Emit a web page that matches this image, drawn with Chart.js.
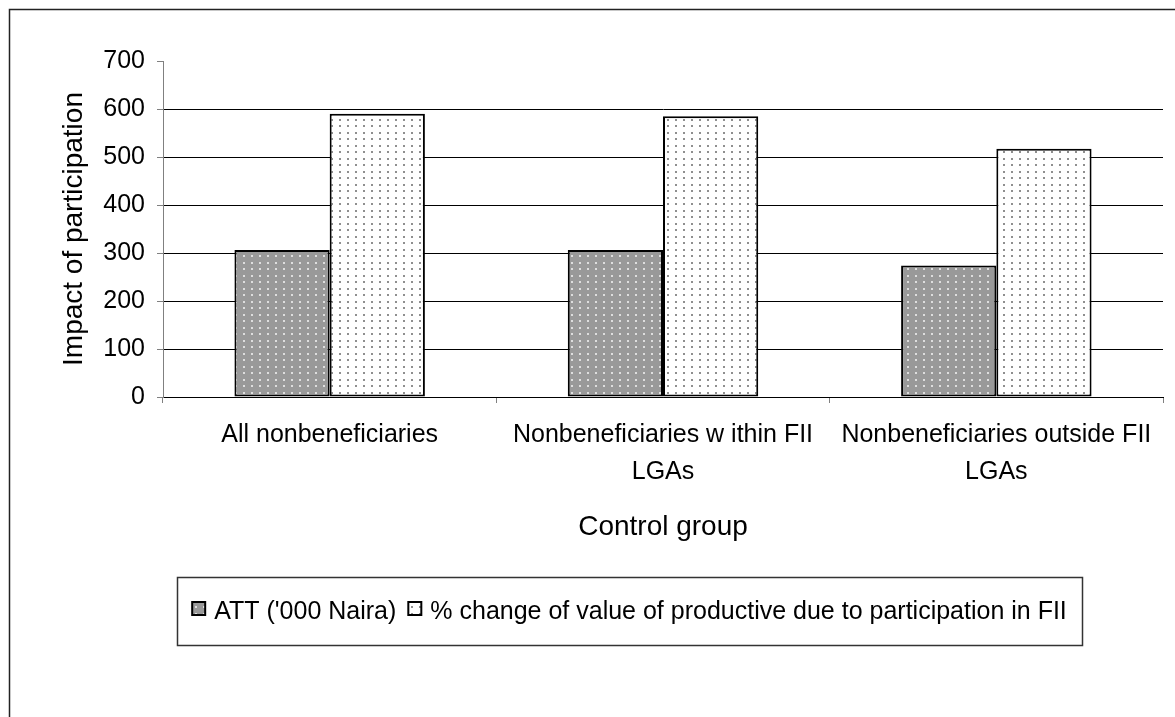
<!DOCTYPE html>
<html>
<head>
<meta charset="utf-8">
<script src="https://cdn.jsdelivr.net/npm/chart.js@4"></script>
<style>
  html, body { margin: 0; padding: 0; background: #fff; }
  #wrap { position: relative; width: 1175px; height: 717px; }
</style>
</head>
<body>
<div id="wrap"><canvas id="impactChart" width="1175" height="717"></canvas></div>
<script>
const categories = [
    'All nonbeneficiaries',
    ['Nonbeneficiaries w ithin FII', 'LGAs'],
    ['Nonbeneficiaries outside FII', 'LGAs']
];
const attValues = [306, 306, 274];
const pctChangeValues = [590, 585, 517];
const seriesNames = ["ATT ('000 Naira)", '% change of value of productive due to participation in FII'];
const yMin = 0;
const yMax = 700;
const yStep = 100;

const FONT = "'Liberation Sans', Arial, sans-serif";

// small dotted fills like the old spreadsheet patterns
function dotPattern(bg, dot) {
    const c = document.createElement('canvas');
    c.width = 8;
    c.height = 13;
    const g = c.getContext('2d');
    g.fillStyle = bg;
    g.fillRect(0, 0, 8, 13);
    g.fillStyle = dot;
    g.fillRect(3, 2, 2, 2);
    g.fillRect(3, 8, 2, 2);
    return g.createPattern(c, 'repeat');
}

const grayFill = dotPattern('#999999', '#dedede');
const whiteFill = dotPattern('#ffffff', '#8f8f8f');

// page frame (top and left edge)
const framePlugin = {
    id: 'frame',
    beforeDraw(chart) {
        const ctx = chart.ctx;
        ctx.save();
        ctx.fillStyle = '#fff';
        ctx.fillRect(0, 0, chart.width, chart.height);
        ctx.strokeStyle = '#222';
        ctx.lineWidth = 1.5;
        ctx.beginPath();
        ctx.moveTo(9.5, chart.height);
        ctx.lineTo(9.5, 9.5);
        ctx.lineTo(chart.width, 9.5);
        ctx.stroke();
        ctx.restore();
    }
};

// boxed legend under the axis title
const boxLegend = {
    id: 'boxLegend',
    afterDraw(chart) {
        const ctx = chart.ctx;
        const left = 177, top = 577, right = 1082, bottom = 645;
        const textY = 612;
        const sw = 13, gapText = 9, gapItem = 12;
        ctx.save();
        ctx.strokeStyle = '#333';
        ctx.lineWidth = 1.5;
        ctx.strokeRect(left + 0.5, top + 0.5, right - left, bottom - top);

        ctx.font = '25px ' + FONT;
        ctx.textBaseline = 'middle';
        ctx.textAlign = 'left';
        const items = chart.data.datasets.map(ds => ({
            text: ds.label,
            fill: ds.backgroundColor,
            w: ctx.measureText(ds.label).width
        }));
        let total = 0;
        items.forEach((it, i) => {
            total += sw + gapText + it.w + (i ? gapItem : 0);
        });
        let x = (left + right) / 2 - total / 2;
        items.forEach(it => {
            ctx.fillStyle = it.fill;
            ctx.fillRect(x, textY - 10, sw, sw);
            ctx.strokeStyle = '#000';
            ctx.lineWidth = 2;
            ctx.strokeRect(x, textY - 10, sw, sw);
            ctx.fillStyle = '#000';
            ctx.fillText(it.text, x + sw + gapText, textY);
            x += sw + gapText + it.w + gapItem;
        });
        ctx.restore();
    }
};

const ctx = document.getElementById('impactChart');
new Chart(ctx, {
    type: 'bar',
    data: {
        labels: categories,
        datasets: [
            {
                label: seriesNames[0],
                data: attValues,
                backgroundColor: grayFill,
                borderColor: '#000',
                borderWidth: 2,
                borderSkipped: false
            },
            {
                label: seriesNames[1],
                data: pctChangeValues,
                backgroundColor: whiteFill,
                borderColor: '#000',
                borderWidth: 2,
                borderSkipped: false
            }
        ]
    },
    options: {
        responsive: false,
        animation: false,
        devicePixelRatio: 1,
        layout: {
            padding: { left: 0, right: 12, top: 61, bottom: 0 }
        },
        datasets: {
            bar: {
                categoryPercentage: 2 / 3.5,
                barPercentage: 1
            }
        },
        scales: {
            x: {
                afterFit(scale) { scale.height = 320; },
                grid: {
                    offset: true,
                    drawOnChartArea: false,
                    drawTicks: true,
                    tickLength: 6,
                    tickColor: '#808080'
                },
                border: { color: '#000', width: 1 },
                ticks: {
                    color: '#000',
                    padding: 14,
                    maxRotation: 0,
                    autoSkip: false,
                    font: { family: FONT, size: 25, lineHeight: 1.48 }
                },
                title: {
                    display: true,
                    text: 'Control group',
                    color: '#000',
                    font: { family: FONT, size: 28, lineHeight: 1.2 },
                    padding: { top: 0, bottom: 173 }
                }
            },
            y: {
                min: yMin,
                max: yMax,
                afterFit(scale) { scale.width = 163; },
                grid: {
                    color: c => (c.tick && c.tick.value === yMax) ? 'rgba(0,0,0,0)' : '#000',
                    tickColor: '#808080',
                    tickLength: 6
                },
                border: { color: '#808080', width: 1 },
                ticks: {
                    stepSize: yStep,
                    color: '#000',
                    padding: 12,
                    font: { family: FONT, size: 25 }
                },
                title: {
                    display: true,
                    text: 'Impact of participation',
                    color: '#000',
                    font: { family: FONT, size: 28, lineHeight: 1.2 },
                    padding: { top: 57, bottom: 0 }
                }
            }
        },
        plugins: {
            legend: { display: false },
            tooltip: { enabled: false }
        }
    },
    plugins: [framePlugin, boxLegend]
});
</script>
</body>
</html>
